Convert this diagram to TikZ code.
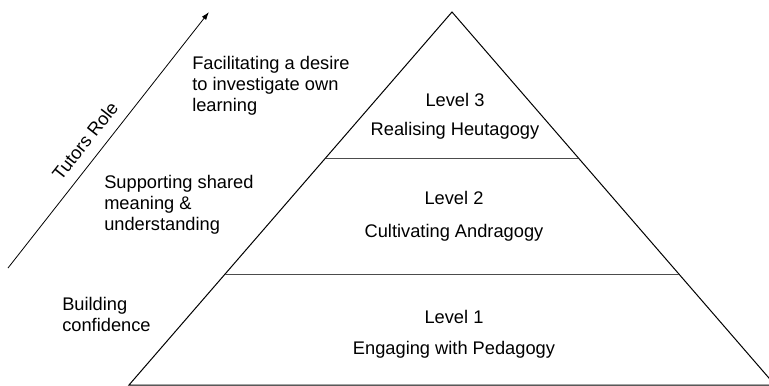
\documentclass[tikz,border=0pt]{standalone}
\usepackage{fontspec}
\setmainfont{Liberation Sans}
\usetikzlibrary{arrows.meta}

\begin{document}
\begin{tikzpicture}[x=0.75pt,y=0.75pt,yscale=-1,xscale=1,
  txt/.style={inner sep=0pt, font=\fontsize{13.7}{15.8}\selectfont},
  lvl/.style={txt, anchor=base},
  side/.style={txt, anchor=north west, align=left}]
\clip (0,0) rectangle (769,386);

%Pyramid corners and divider ends
\coordinate (top) at (452,12);
\coordinate (bl) at (129,385);
\coordinate (br) at (775,385);
\coordinate (d1l) at (225,274);
\coordinate (d1r) at (679,274);
\coordinate (d2l) at (326,158);
\coordinate (d2r) at (578,158);

%Triangle
\draw [line width=0.75pt]  (top) -- (br) -- (bl) -- cycle ;
%Straight Lines
\draw [line width=0.75pt, black!70]  (d1l) -- (d1r) ;
%Straight Lines
\draw [line width=0.75pt, black!70]  (d2l) -- (d2r) ;

%Arrow
\coordinate (a0) at (8,268);
\coordinate (a1) at (209,12);
\draw [line width=0.6pt, -{Latex[length=6pt,width=4pt]}]  (a0) -- (a1) ;
% Text Node
\node [txt, rotate=51.8] (role) at (85,141) {Tutors Role};

% Text Node
\node [lvl] (l3) at (455,106) {Level 3};
% Text Node
\node [lvl] (l3t) at (455,135) {Realising Heutagogy};
% Text Node
\node [lvl] (l2) at (454,204) {Level 2};
% Text Node
\node [lvl] (l2t) at (454,237) {Cultivating Andragogy};
% Text Node
\node [lvl] (l1) at (454,323) {Level 1};
% Text Node
\node [lvl] (l1t) at (454,354) {Engaging with Pedagogy};

% Text Node
\node [side] (facil) at (192,56) {Facilitating a desire\\to investigate own\\learning};
% Text Node
\node [side] (supp) at (104,175) {Supporting shared\\meaning \&\\understanding};
% Text Node
\node [side] (build) at (62,297) {Building\\confidence};

\end{tikzpicture}
\end{document}
